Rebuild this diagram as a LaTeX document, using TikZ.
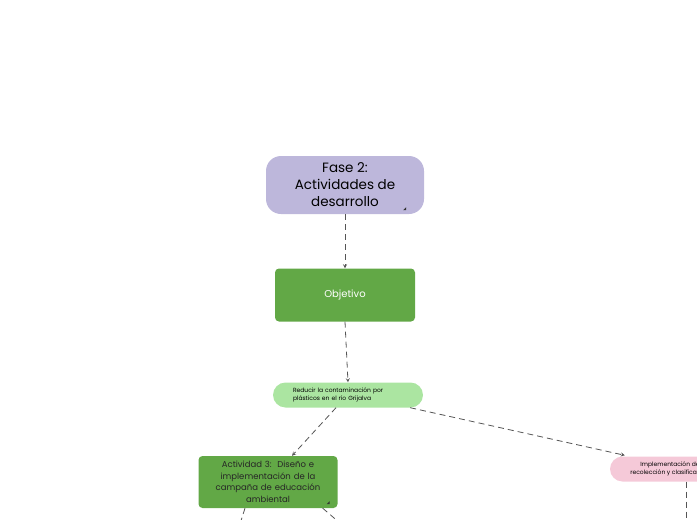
\documentclass[tikz,border=0pt]{standalone}
\usepackage{fontspec}
\setmainfont{Poppins}
\usetikzlibrary{positioning}
\definecolor{faselila}{HTML}{BDB7DB}
\definecolor{verdeobj}{HTML}{62A846}
\definecolor{verdeclaro}{HTML}{ABE5A1}
\definecolor{rosaimpl}{HTML}{F5C9D8}
\definecolor{lineagris}{HTML}{555555}
\begin{document}
\begin{tikzpicture}[x=1pt, y=-1pt, >=stealth,
		conector/.style={->, lineagris, line width=0.8pt, dash pattern=on 6pt off 4pt},
		rama/.style={lineagris, line width=0.8pt, dash pattern=on 6pt off 4pt},
		fase/.style={fill=faselila, rounded corners=15pt, minimum width=158pt, minimum height=58pt, align=center, font=\fontsize{13.5}{17}\selectfont},
		caja/.style={fill=verdeobj, rounded corners=4pt, align=center},
		pastilla/.style={rounded corners=12.5pt, minimum height=25pt, inner sep=0pt}]
	% 1. marco
	\useasboundingbox (0,0) rectangle (697,520);
	\clip (0,0) rectangle (697,520);
	
	% 2. nodos
	\node[fase] (fase) at (345,185) {Fase 2:\\Actividades de\\desarrollo};
	\node[caja, minimum width=140pt, minimum height=53pt, text=white, font=\fontsize{10}{12}\selectfont] (objetivo) at (345,295) {Objetivo};
	\node[pastilla, fill=verdeclaro, minimum width=150pt, text width=126pt, align=left, font=\fontsize{6}{8}\selectfont] (reducir) at (348,395) {\hspace*{8pt}Reducir la contaminación por\\\hspace*{8pt}plásticos en el río Grijalva};
	\node[caja, minimum width=139pt, minimum height=52pt, text width=125pt, text=black!85, font=\fontsize{8.5}{11.5}\selectfont] (actividad) at (268,482) {Actividad 3:\ \ Diseño e\\implementación de la\\campaña de educación\\ambiental};
	\node[pastilla, fill=rosaimpl, minimum width=120pt, align=center, font=\fontsize{6}{8}\selectfont] (impl) at (670,469) {Implementación de\\recolección y clasificación};
	
	% 3. marcas de esquina
	\fill[black!80] ([xshift=-18pt, yshift=4pt]fase.south east) -- ++(-3,0) -- ++(3,-3) -- cycle;
	\fill[black!80] ([xshift=-8pt, yshift=4pt]actividad.south east) -- ++(-3,0) -- ++(3,-3) -- cycle;
	
	% 4. conectores
	\draw[conector] (fase.south) -- (objetivo.north);
	\draw[conector] (objetivo.south) -- (reducir.north);
	\draw[conector] ([xshift=-12pt]reducir.south) -- ([xshift=24pt]actividad.north);
	\draw[conector] ([xshift=-13pt]reducir.south east) -- ([xshift=15pt, yshift=1pt]impl.north west);
	
	% 5. ramas que salen del cuadro
	\coordinate (salidaA) at (238,530);
	\coordinate (salidaB) at (348,530);
	\coordinate (salidaC) at (686,530);
	\draw[rama] ([xshift=-23pt]actividad.south) -- (salidaA);
	\draw[rama] ([xshift=-15pt]actividad.south east) -- (salidaB);
	\draw[rama] ([xshift=16pt]impl.south) -- (salidaC);
\end{tikzpicture}
\end{document}
